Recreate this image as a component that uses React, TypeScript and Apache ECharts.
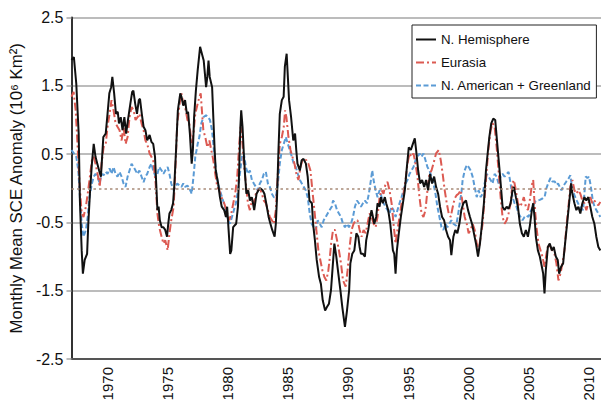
import React, { useEffect, useRef } from "react";
import * as echarts from "echarts";

// [year, anomaly (10^6 km^2)]
const nHemisphere: [number, number][] = [
  [1967.0,1.88],[1967.2,1.92],[1967.4,1.53],[1967.6,0.80],[1967.7,-0.18],[1967.85,-0.91],[1967.95,-1.25],[1968.1,-1.05],[1968.3,-0.96],[1968.4,-0.52],[1968.55,-0.03],[1968.7,0.36],[1968.85,0.65],[1969.0,0.46],[1969.15,0.36],[1969.3,0.26],[1969.45,0.17],[1969.55,0.46],[1969.65,0.75],[1969.85,0.80],
  [1970.0,1.09],[1970.15,1.39],[1970.3,1.48],[1970.4,1.63],[1970.55,1.39],[1970.7,1.09],[1970.85,1.12],[1970.95,0.95],[1971.1,1.04],[1971.25,0.85],[1971.4,1.04],[1971.55,0.80],[1971.7,1.0],[1971.9,1.24],[1972.05,1.41],[1972.15,1.43],[1972.3,1.24],[1972.45,1.09],[1972.6,1.29],[1972.7,1.31],[1972.85,1.09],
  [1973.0,0.90],[1973.15,0.85],[1973.3,0.70],[1973.5,0.78],[1973.65,0.68],[1973.8,0.65],[1973.95,0.46],[1974.05,0.07],[1974.15,-0.32],[1974.25,-0.27],[1974.35,-0.47],[1974.5,-0.57],[1974.65,-0.57],[1974.8,-0.61],[1974.95,-0.71],[1975.05,-0.52],[1975.15,-0.37],[1975.3,-0.32],[1975.45,-0.22],[1975.55,0.02],
  [1975.7,0.56],[1975.85,1.14],[1976.05,1.39],[1976.15,1.34],[1976.3,1.21],[1976.45,1.29],[1976.6,1.09],[1976.7,1.12],[1976.85,0.80],[1977.0,0.36],[1977.1,0.56],[1977.2,1.04],[1977.35,1.43],[1977.5,1.73],[1977.7,2.07],[1977.85,1.97],[1978.0,1.87],[1978.2,1.48],[1978.3,1.63],[1978.4,1.87],
  [1978.5,1.63],[1978.7,1.48],[1978.8,1.04],[1978.9,0.60],[1979.0,0.26],[1979.2,0.07],[1979.35,-0.13],[1979.5,-0.27],[1979.7,-0.32],[1979.85,-0.42],[1979.95,-0.27],[1980.07,-0.61],[1980.2,-0.96],[1980.3,-0.91],[1980.45,-0.57],[1980.7,-0.52],[1980.85,-0.27],[1980.95,0.26],[1981.05,0.90],[1981.12,1.14],
  [1981.23,0.90],[1981.35,0.46],[1981.45,0.17],[1981.55,-0.08],[1981.7,-0.03],[1981.85,-0.18],[1982.0,-0.13],[1982.1,-0.22],[1982.2,-0.32],[1982.4,-0.08],[1982.55,-0.03],[1982.7,0.0],[1982.9,-0.03],[1983.05,-0.08],[1983.2,-0.22],[1983.4,-0.42],[1983.55,-0.52],[1983.7,-0.61],[1983.9,-0.71],[1984.0,-0.52],
  [1984.1,-0.13],[1984.22,0.56],[1984.33,1.09],[1984.5,1.29],[1984.65,1.34],[1984.75,1.78],[1984.9,1.97],[1985.0,1.63],[1985.1,1.29],[1985.27,1.04],[1985.45,0.70],[1985.6,0.80],[1985.7,0.56],[1985.8,0.36],[1986.0,0.26],[1986.15,0.41],[1986.3,0.43],[1986.5,0.36],[1986.65,0.17],[1986.8,-0.18],
  [1987.0,-0.22],[1987.1,-0.52],[1987.25,-0.76],[1987.4,-1.05],[1987.6,-1.30],[1987.75,-1.40],[1987.9,-1.64],[1988.1,-1.79],[1988.25,-1.74],[1988.42,-1.69],[1988.59,-1.49],[1988.75,-1.10],[1988.87,-0.81],[1989.03,-1.00],[1989.2,-1.25],[1989.37,-1.49],[1989.53,-1.74],[1989.75,-2.03],[1989.92,-1.79],[1990.1,-1.49],
  [1990.2,-1.10],[1990.36,-0.96],[1990.53,-0.91],[1990.7,-0.66],[1990.86,-0.71],[1990.97,-0.86],[1991.08,-0.96],[1991.25,-0.96],[1991.41,-1.00],[1991.52,-0.76],[1991.69,-0.61],[1991.85,-0.42],[1991.96,-0.32],[1992.08,-0.42],[1992.19,-0.52],[1992.35,-0.42],[1992.46,-0.22],[1992.63,-0.27],[1992.74,-0.13],[1992.9,-0.22],
  [1993.07,-0.13],[1993.18,-0.22],[1993.35,-0.32],[1993.52,-0.52],[1993.63,-0.71],[1993.74,-0.91],[1993.85,-0.96],[1993.96,-1.25],[1994.07,-0.91],[1994.23,-0.66],[1994.4,-0.42],[1994.57,-0.22],[1994.73,-0.03],[1994.9,0.31],[1995.06,0.60],[1995.23,0.56],[1995.4,0.65],[1995.56,0.73],[1995.67,0.56],[1995.84,0.26],
  [1996.0,0.07],[1996.17,0.12],[1996.34,0.02],[1996.5,0.12],[1996.67,-0.03],[1996.83,0.21],[1997.0,0.07],[1997.17,0.17],[1997.33,0.02],[1997.5,-0.08],[1997.66,-0.27],[1997.83,-0.42],[1998.0,-0.47],[1998.16,-0.61],[1998.33,-0.71],[1998.49,-0.76],[1998.6,-0.98],[1998.77,-0.71],[1998.93,-0.61],[1999.1,-0.66],
  [1999.27,-0.52],[1999.43,-0.32],[1999.6,-0.22],[1999.82,-0.18],[1999.99,-0.32],[2000.15,-0.42],[2000.32,-0.52],[2000.48,-0.66],[2000.65,-0.81],[2000.82,-1.00],[2000.98,-0.81],[2001.15,-0.52],[2001.31,-0.22],[2001.48,0.26],[2001.65,0.56],[2001.76,0.75],[2001.92,0.95],[2002.09,1.02],[2002.25,1.0],[2002.42,0.65],
  [2002.59,0.31],[2002.75,-0.03],[2002.86,-0.27],[2003.03,-0.32],[2003.2,-0.27],[2003.36,-0.30],[2003.53,-0.22],[2003.69,-0.03],[2003.8,0.02],[2003.97,-0.13],[2004.14,-0.27],[2004.3,-0.52],[2004.47,-0.66],[2004.63,-0.71],[2004.8,-0.61],[2004.97,-0.71],[2005.13,-0.55],[2005.3,-0.32],[2005.41,-0.22],[2005.52,-0.42],
  [2005.63,-0.71],[2005.8,-0.91],[2005.96,-1.00],[2006.13,-1.15],[2006.24,-1.25],[2006.35,-1.54],[2006.46,-1.20],[2006.63,-0.86],[2006.79,-0.81],[2006.96,-0.91],[2007.12,-0.86],[2007.29,-1.00],[2007.45,-1.05],[2007.57,-1.25],[2007.73,-1.15],[2007.9,-1.10],[2008.06,-0.81],[2008.23,-0.52],[2008.4,-0.22],[2008.56,0.07],
  [2008.67,-0.08],[2008.84,-0.22],[2009.0,-0.32],[2009.17,-0.27],[2009.33,-0.37],[2009.5,-0.22],[2009.67,-0.13],[2009.83,-0.18],[2010.0,-0.13],[2010.16,-0.27],[2010.33,-0.42],[2010.5,-0.52],[2010.66,-0.71],[2010.83,-0.86],[2011.0,-0.91],
];

const eurasia: [number, number][] = [
  [1967.0,1.34],[1967.18,1.41],[1967.35,1.14],[1967.5,0.65],[1967.67,0.07],[1967.85,-0.37],[1968.0,-0.42],[1968.2,-0.27],[1968.35,-0.08],[1968.5,0.12],[1968.7,0.41],[1968.85,0.46],[1969.0,0.36],[1969.17,0.21],[1969.35,0.02],[1969.5,0.36],[1969.67,0.60],[1969.85,0.65],
  [1970.0,0.90],[1970.17,1.09],[1970.33,1.29],[1970.5,1.14],[1970.67,0.95],[1970.83,0.90],[1971.0,0.85],[1971.17,0.70],[1971.33,0.90],[1971.5,0.65],[1971.67,0.75],[1971.83,1.04],[1972.0,1.19],[1972.17,1.14],[1972.33,1.0],[1972.5,1.04],[1972.65,1.09],[1972.83,0.95],
  [1973.0,0.85],[1973.15,0.70],[1973.3,0.65],[1973.5,0.51],[1973.65,0.46],[1973.8,0.41],[1974.0,0.07],[1974.15,-0.37],[1974.3,-0.57],[1974.5,-0.71],[1974.65,-0.81],[1974.8,-0.76],[1975.0,-0.91],[1975.15,-0.66],[1975.3,-0.47],[1975.5,-0.27],[1975.65,0.31],[1975.8,0.95],
  [1976.0,1.24],[1976.15,1.39],[1976.3,1.24],[1976.45,1.19],[1976.65,1.0],[1976.8,0.95],[1977.0,0.65],[1977.15,0.80],[1977.3,1.09],[1977.5,1.24],[1977.65,1.34],[1977.75,1.39],[1977.85,1.14],[1977.97,0.85],[1978.13,0.75],[1978.3,0.60],[1978.47,0.70],[1978.63,0.56],
  [1978.8,0.41],[1978.96,0.21],[1979.13,0.02],[1979.3,-0.03],[1979.46,-0.13],[1979.63,-0.18],[1979.8,-0.27],[1979.96,-0.37],[1980.13,-0.47],[1980.29,-0.37],[1980.46,-0.22],[1980.62,-0.08],[1980.79,0.17],[1980.96,0.65],[1981.07,0.90],[1981.23,0.65],[1981.34,0.36],[1981.51,0.07],
  [1981.68,-0.22],[1981.84,-0.32],[1982.01,-0.18],[1982.17,-0.22],[1982.34,-0.08],[1982.5,-0.03],[1982.67,0.0],[1982.84,-0.08],[1983.0,-0.18],[1983.17,-0.22],[1983.34,-0.32],[1983.5,-0.42],[1983.67,-0.47],[1983.83,-0.52],[1984.0,-0.32],[1984.17,0.21],[1984.33,0.65],[1984.5,0.75],
  [1984.66,0.90],[1984.77,1.14],[1984.88,1.04],[1985.05,0.75],[1985.22,0.56],[1985.38,0.46],[1985.55,0.36],[1985.71,0.21],[1985.88,0.12],[1986.05,0.31],[1986.21,0.41],[1986.38,0.43],[1986.54,0.41],[1986.71,0.36],[1986.88,0.26],[1987.04,-0.03],[1987.21,-0.32],[1987.37,-0.61],
  [1987.54,-0.91],[1987.7,-1.05],[1987.87,-1.20],[1988.04,-1.30],[1988.2,-1.35],[1988.37,-1.20],[1988.5,-1.0],[1988.6,-0.81],[1988.76,-0.61],[1988.92,-0.61],[1989.09,-0.76],[1989.25,-0.91],[1989.42,-1.10],[1989.59,-1.35],[1989.81,-1.44],[1989.97,-1.20],[1990.14,-0.86],[1990.3,-0.61],
  [1990.47,-0.52],[1990.64,-0.47],[1990.8,-0.47],[1990.97,-0.61],[1991.14,-0.71],[1991.3,-0.61],[1991.47,-0.66],[1991.63,-0.52],[1991.8,-0.37],[1991.97,-0.42],[1992.13,-0.52],[1992.3,-0.57],[1992.46,-0.42],[1992.63,-0.13],[1992.8,-0.03],[1992.96,-0.08],[1993.13,0.07],[1993.29,0.09],
  [1993.46,-0.03],[1993.63,-0.22],[1993.79,-0.52],[1993.96,-0.81],[1994.12,-0.61],[1994.29,-0.42],[1994.46,-0.22],[1994.62,-0.08],[1994.79,0.12],[1994.95,0.36],[1995.12,0.51],[1995.29,0.46],[1995.45,0.51],[1995.62,0.36],[1995.78,0.17],[1995.95,-0.13],[1996.12,-0.37],[1996.28,-0.42],
  [1996.45,-0.32],[1996.61,-0.03],[1996.78,0.21],[1996.95,0.26],[1997.11,0.36],[1997.33,0.51],[1997.55,0.56],[1997.72,0.41],[1997.88,0.21],[1998.05,-0.03],[1998.22,-0.22],[1998.38,-0.37],[1998.55,-0.42],[1998.72,-0.27],[1998.88,-0.15],[1999.05,-0.10],[1999.2,-0.08],[1999.38,-0.03],
  [1999.54,-0.22],[1999.71,-0.42],[1999.88,-0.52],[2000.04,-0.66],[2000.21,-0.61],[2000.37,-0.52],[2000.54,-0.61],[2000.71,-0.81],[2000.87,-0.91],[2001.04,-0.71],[2001.2,-0.52],[2001.37,-0.13],[2001.54,0.26],[2001.7,0.60],[2001.87,0.85],[2002.03,0.95],[2002.2,0.90],[2002.37,0.60],
  [2002.53,0.26],[2002.7,-0.13],[2002.86,-0.42],[2003.03,-0.52],[2003.2,-0.47],[2003.36,-0.37],[2003.53,-0.22],[2003.69,0.07],[2003.8,0.12],[2003.97,-0.03],[2004.14,-0.22],[2004.3,-0.27],[2004.47,-0.22],[2004.63,-0.13],[2004.8,-0.27],[2004.97,-0.32],[2005.13,-0.17],[2005.3,0.05],
  [2005.41,0.12],[2005.52,-0.22],[2005.68,-0.57],[2005.85,-0.81],[2006.02,-0.91],[2006.18,-1.0],[2006.35,-1.15],[2006.51,-0.96],[2006.68,-0.81],[2006.85,-0.86],[2007.01,-0.91],[2007.18,-0.96],[2007.34,-1.10],[2007.51,-1.35],[2007.68,-1.25],[2007.84,-1.10],[2008.01,-0.91],[2008.17,-0.57],
  [2008.34,-0.27],[2008.5,0.02],[2008.67,0.12],[2008.84,-0.03],[2009.0,-0.08],[2009.17,-0.03],[2009.33,-0.08],[2009.5,-0.18],[2009.67,-0.22],[2009.83,-0.32],[2010.0,-0.22],[2010.16,-0.13],[2010.33,-0.22],[2010.5,-0.18],[2010.66,-0.22],[2010.83,-0.25],[2011.0,-0.2],
];

const nAmericaGreenland: [number, number][] = [
  [1967.0,0.56],[1967.2,0.51],[1967.4,0.46],[1967.57,0.26],[1967.73,-0.22],[1967.85,-0.52],[1968.0,-0.71],[1968.2,-0.61],[1968.35,-0.42],[1968.5,-0.13],[1968.7,0.07],[1968.85,0.17],[1969.0,0.21],[1969.17,0.17],[1969.35,0.07],[1969.5,0.21],[1969.67,0.19],[1969.85,0.24],
  [1970.0,0.21],[1970.17,0.29],[1970.33,0.21],[1970.5,0.31],[1970.67,0.21],[1970.83,0.17],[1971.0,0.24],[1971.17,0.17],[1971.33,0.07],[1971.5,0.02],[1971.67,0.17],[1971.83,0.26],[1972.0,0.36],[1972.17,0.31],[1972.33,0.26],[1972.5,0.21],[1972.65,0.26],[1972.83,0.17],
  [1973.0,0.09],[1973.15,0.17],[1973.3,0.21],[1973.5,0.31],[1973.65,0.36],[1973.8,0.26],[1974.0,0.17],[1974.15,0.21],[1974.3,0.31],[1974.5,0.26],[1974.65,0.21],[1974.8,0.26],[1975.0,0.31],[1975.15,0.21],[1975.3,0.07],[1975.5,-0.03],[1975.65,0.02],[1975.8,0.07],
  [1976.0,0.04],[1976.15,0.02],[1976.3,0.07],[1976.45,0.02],[1976.65,0.04],[1976.8,0.0],[1977.0,-0.08],[1977.15,0.17],[1977.3,0.46],[1977.5,0.65],[1977.64,0.75],[1977.8,0.95],[1977.97,1.04],[1978.19,1.07],[1978.36,1.04],[1978.52,1.0],[1978.69,0.85],[1978.85,0.56],
  [1979.02,0.26],[1979.19,0.07],[1979.35,-0.03],[1979.52,-0.13],[1979.68,-0.22],[1979.85,-0.32],[1980.02,-0.47],[1980.18,-0.52],[1980.35,-0.42],[1980.51,-0.32],[1980.68,-0.22],[1980.85,-0.03],[1981.01,0.21],[1981.18,0.46],[1981.34,0.51],[1981.51,0.31],[1981.68,0.21],[1981.84,0.26],
  [1982.01,0.12],[1982.17,0.07],[1982.34,0.02],[1982.5,-0.03],[1982.67,0.07],[1982.84,0.12],[1983.0,0.21],[1983.17,0.24],[1983.34,0.07],[1983.5,0.02],[1983.67,-0.08],[1983.83,-0.13],[1984.0,-0.13],[1984.17,0.07],[1984.33,0.36],[1984.5,0.56],[1984.66,0.65],[1984.83,0.75],
  [1985.0,0.65],[1985.16,0.56],[1985.33,0.46],[1985.49,0.36],[1985.66,0.31],[1985.83,0.21],[1986.0,0.12],[1986.16,0.07],[1986.32,0.02],[1986.49,-0.03],[1986.65,-0.13],[1986.82,-0.37],[1986.98,-0.52],[1987.15,-0.57],[1987.32,-0.61],[1987.48,-0.47],[1987.65,-0.52],[1987.82,-0.57],
  [1987.98,-0.47],[1988.15,-0.42],[1988.31,-0.37],[1988.48,-0.32],[1988.65,-0.27],[1988.76,-0.18],[1988.92,-0.22],[1989.09,-0.32],[1989.25,-0.37],[1989.42,-0.42],[1989.59,-0.52],[1989.75,-0.57],[1989.92,-0.52],[1990.08,-0.57],[1990.25,-0.52],[1990.42,-0.42],[1990.58,-0.27],[1990.75,-0.18],
  [1990.91,-0.22],[1991.08,-0.27],[1991.25,-0.22],[1991.41,-0.18],[1991.58,-0.22],[1991.74,-0.08],[1991.91,0.12],[1992.02,0.26],[1992.13,0.12],[1992.3,-0.03],[1992.46,-0.13],[1992.63,-0.03],[1992.8,-0.13],[1992.96,-0.22],[1993.13,-0.27],[1993.29,-0.32],[1993.46,-0.37],[1993.63,-0.27],
  [1993.79,-0.32],[1993.96,-0.42],[1994.12,-0.32],[1994.29,-0.22],[1994.46,-0.13],[1994.62,-0.03],[1994.79,0.07],[1994.95,0.12],[1995.12,0.21],[1995.29,0.26],[1995.45,0.31],[1995.62,0.41],[1995.78,0.46],[1995.95,0.51],[1996.12,0.46],[1996.28,0.51],[1996.45,0.41],[1996.61,0.31],
  [1996.78,0.26],[1996.95,0.17],[1997.11,0.07],[1997.28,-0.08],[1997.44,-0.27],[1997.61,-0.42],[1997.78,-0.57],[1997.94,-0.61],[1998.11,-0.52],[1998.27,-0.57],[1998.44,-0.52],[1998.6,-0.47],[1998.77,-0.52],[1999.0,-0.55],[1999.15,-0.40],[1999.3,-0.22],[1999.45,-0.05],[1999.54,0.12],
  [1999.71,0.26],[1999.88,0.34],[2000.04,0.31],[2000.21,0.26],[2000.37,0.17],[2000.54,0.02],[2000.71,-0.13],[2000.87,-0.03],[2001.04,-0.13],[2001.2,-0.08],[2001.37,0.07],[2001.54,0.21],[2001.7,0.17],[2001.87,0.12],[2002.03,0.07],[2002.2,0.21],[2002.37,0.17],[2002.53,0.07],
  [2002.7,0.17],[2002.86,0.21],[2003.03,0.17],[2003.2,0.21],[2003.36,0.24],[2003.53,0.07],[2003.69,-0.13],[2003.86,-0.22],[2004.02,-0.27],[2004.19,-0.37],[2004.36,-0.42],[2004.52,-0.47],[2004.69,-0.42],[2004.85,-0.40],[2005.02,-0.42],[2005.19,-0.34],[2005.35,-0.28],[2005.55,-0.2],
  [2005.75,-0.18],[2005.96,-0.17],[2006.18,-0.15],[2006.37,-0.12],[2006.51,0.0],[2006.65,0.07],[2006.85,0.15],[2007.01,0.10],[2007.2,0.10],[2007.34,0.05],[2007.48,0.07],[2007.62,0.02],[2007.76,-0.03],[2007.95,0.04],[2008.17,0.10],[2008.34,0.14],[2008.5,0.19],[2008.67,-0.03],
  [2008.84,-0.1],[2009.0,-0.17],[2009.14,-0.22],[2009.28,-0.27],[2009.45,-0.3],[2009.56,-0.32],[2009.68,-0.05],[2009.78,0.17],[2009.92,0.15],[2010.05,0.17],[2010.15,0.08],[2010.25,-0.03],[2010.38,-0.2],[2010.52,-0.27],[2010.66,-0.32],[2010.83,-0.37],[2011.0,-0.42],
];

const yTickLabels = ["-2.5", "-1.5", "-0.5", "0.5", "1.5", "2.5"];
const xTickYears = [1970, 1975, 1980, 1985, 1990, 1995, 2000, 2005, 2010];
const seriesNames = ["N. Hemisphere", "Eurasia", "N. American + Greenland"];

const FONT = "Liberation Sans, Arial, Helvetica, sans-serif";

export default function App() {
  const ref = useRef<HTMLDivElement>(null);

  useEffect(() => {
    if (!ref.current) return;
    const chart = echarts.init(ref.current, undefined, { renderer: "svg" });
    chart.setOption({
      animation: false,
      backgroundColor: "#ffffff",
      textStyle: { fontFamily: FONT },
      grid: { left: 70, right: 0, top: 17.5, bottom: 45, containLabel: false },
      legend: {
        orient: "vertical",
        left: 412,
        top: 25,
        data: seriesNames,
        backgroundColor: "#ffffff",
        borderColor: "#222222",
        borderWidth: 1,
        padding: [8, 5, 6, 3],
        itemWidth: 20,
        itemHeight: 14,
        itemGap: 10,
        selectedMode: false,
        itemStyle: { opacity: 0 },
        textStyle: { fontFamily: FONT, fontSize: 13.3, color: "#111111" },
      },
      xAxis: {
        type: "value",
        min: 1967,
        max: 2011.05,
        interval: 1,
        axisLine: { show: true, onZero: false, lineStyle: { color: "#555555", width: 2 } },
        axisTick: { show: false },
        splitLine: { show: false },
        axisLabel: {
          rotate: 90,
          margin: 8,
          fontSize: 15,
          color: "#111111",
          fontFamily: FONT,
          showMinLabel: false,
          showMaxLabel: false,
          formatter: (v: number) => (xTickYears.includes(v) ? String(v) : ""),
        },
      },
      yAxis: {
        type: "value",
        min: -2.5,
        max: 2.5,
        interval: 1,
        name: "Monthly Mean SCE Anomaly (10\u2076 Km\u00B2)",
        nameLocation: "middle",
        nameGap: 39,
        nameTextStyle: { fontSize: 16.8, color: "#111111", fontFamily: FONT },
        axisLine: { show: true, onZero: false, lineStyle: { color: "#333333", width: 2 } },
        axisTick: { show: true, length: 5, lineStyle: { color: "#a6a6a6", width: 1.5 } },
        splitLine: { show: true, lineStyle: { color: "#a6a6a6", width: 1.5 } },
        axisLabel: {
          margin: 8,
          fontSize: 16,
          color: "#111111",
          fontFamily: FONT,
          formatter: (v: number) => {
            const s = v.toFixed(1);
            return yTickLabels.includes(s) ? s : "";
          },
        },
      },
      series: [
        {
          name: seriesNames[2],
          type: "line",
          data: nAmericaGreenland,
          symbol: "none",
          silent: true,
          z: 2,
          lineStyle: { color: "#5b9bd5", width: 2, type: [5, 2.5] },
          itemStyle: { color: "#5b9bd5" },
          markLine: {
            silent: true,
            symbol: "none",
            label: { show: false },
            lineStyle: { color: "#a88a78", width: 1.5, type: [2.5, 3] },
            data: [{ yAxis: 0 }],
          },
        },
        {
          name: seriesNames[1],
          type: "line",
          data: eurasia,
          symbol: "none",
          silent: true,
          z: 3,
          lineStyle: { color: "#dc5a52", width: 2, type: [8, 3, 2, 3] },
          itemStyle: { color: "#dc5a52" },
        },
        {
          name: seriesNames[0],
          type: "line",
          data: nHemisphere,
          symbol: "none",
          silent: true,
          z: 4,
          lineStyle: { color: "#111111", width: 2 },
          itemStyle: { color: "#111111" },
        },
      ],
    });
    return () => chart.dispose();
  }, []);

  return (
    <div
      ref={ref}
      style={{ position: "absolute", left: 0, top: 0, width: 601, height: 404 }}
    />
  );
}
